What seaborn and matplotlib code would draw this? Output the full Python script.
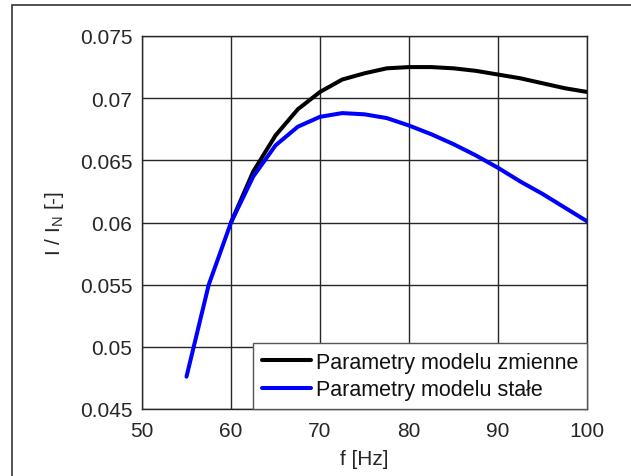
import matplotlib
matplotlib.use("Agg")
import matplotlib.pyplot as plt
import seaborn as sns
import pandas as pd
from matplotlib.patches import Rectangle

f_var = [60, 62.5, 65, 67.5, 70, 72.5, 75, 77.5, 80, 82.5, 85, 87.5, 90, 92.5, 95, 97.5, 100]
i_var = [0.0600, 0.0641, 0.0670, 0.0691, 0.0705, 0.0715, 0.0720, 0.0724, 0.0725, 0.0725,
         0.0724, 0.0722, 0.0719, 0.0716, 0.0712, 0.0708, 0.0705]
f_const = [55, 57.5, 60, 62.5, 65, 67.5, 70, 72.5, 75, 77.5, 80, 82.5, 85, 87.5, 90, 92.5, 95, 97.5, 100]
i_const = [0.0476, 0.0550, 0.0600, 0.0637, 0.0662, 0.0677, 0.0685, 0.0688, 0.0687, 0.0684,
           0.0678, 0.0671, 0.0663, 0.0654, 0.0644, 0.0633, 0.0623, 0.0612, 0.0601]
labels = ["Parametry modelu zmienne", "Parametry modelu stałe"]
x_ticks = [50, 60, 70, 80, 90, 100]
y_ticks = [0.045, 0.05, 0.055, 0.06, 0.065, 0.07, 0.075]
y_tick_labels = ["0.045", "0.05", "0.055", "0.06", "0.065", "0.07", "0.075"]

df = pd.concat([
    pd.DataFrame({"f": f_var, "I": i_var, "series": labels[0]}),
    pd.DataFrame({"f": f_const, "I": i_const, "series": labels[1]}),
])

sns.set_theme(style="white")
plt.rcParams["font.family"] = ["Liberation Sans", "DejaVu Sans"]
plt.rcParams["mathtext.fontset"] = "custom"
plt.rcParams["mathtext.rm"] = "Liberation Sans"
plt.rcParams["mathtext.it"] = "Liberation Sans"

fig = plt.figure(figsize=(6.31, 4.77), dpi=100)
ax = fig.add_axes([142/631, 1-410/477, (587-142)/631, (410-37)/477])

sns.lineplot(data=df, x="f", y="I", hue="series", palette=["black", "#0000ff"],
             linewidth=2.9, ax=ax, sort=False)

ax.set_xlim(50, 100)
ax.set_ylim(0.045, 0.075)
ax.set_xticks(x_ticks)
ax.set_yticks(y_ticks)
ax.set_yticklabels(y_tick_labels)
ax.tick_params(length=0, labelsize=15, colors="#262626", pad=7)
ax.tick_params(axis="x", pad=9)
ax.grid(True, color="#262626", linewidth=1.0)
ax.set_axisbelow(True)
for s in ax.spines.values():
    s.set_color("#262626")
    s.set_linewidth(1.0)
ax.set_xlabel("f [Hz]", fontsize=15, color="#262626", labelpad=6)
ax.set_ylabel(r"I / I$_\mathrm{N}$ [-]", fontsize=15, color="#262626", labelpad=10)

leg = ax.legend(loc="lower right", fontsize=15.5, frameon=True, fancybox=False,
                borderaxespad=0, handlelength=2.3, handletextpad=0.23, borderpad=0.4,
                labelspacing=0.3)
leg.get_frame().set_edgecolor("#555555")
leg.get_frame().set_linewidth(1.0)
leg.get_frame().set_alpha(1)
for t in leg.get_texts():
    t.set_color("#111111")

fig.patches.append(Rectangle((12/631, -0.1), 1.2, 1.1 - 6/477, transform=fig.transFigure,
                             fill=False, edgecolor="#333333", linewidth=1.2, figure=fig))

fig.savefig("out.png", dpi=100)
